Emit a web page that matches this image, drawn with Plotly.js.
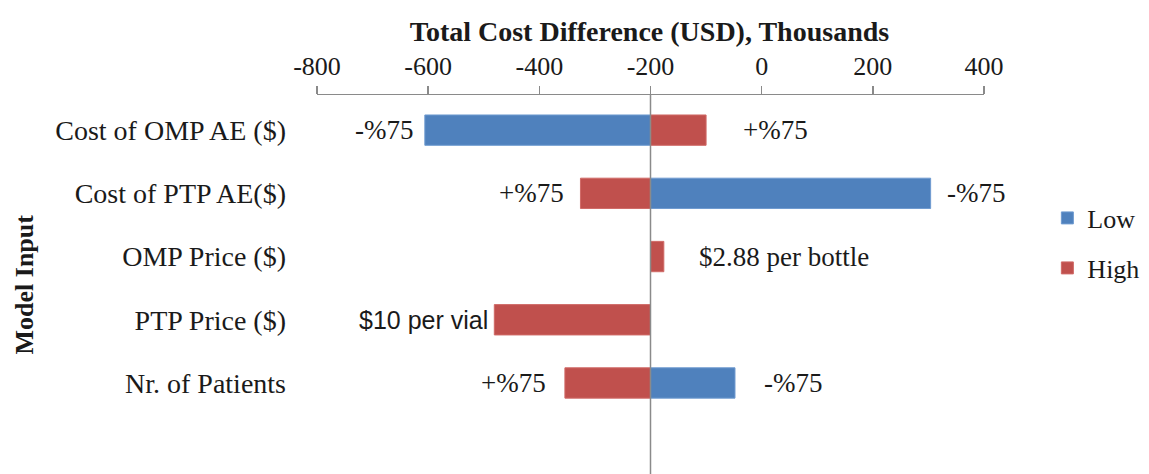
<!DOCTYPE html>
<html>
<head>
<meta charset="utf-8">
<script src="https://cdn.plot.ly/plotly-3.0.1.min.js"></script>
<style>html,body{margin:0;padding:0;background:#fff;}#chart{width:1149px;height:474px;}</style>
</head>
<body>
<div id="chart"></div>
<script>
const categories = ["Cost of OMP AE ($)", "Cost of PTP AE($)", "OMP Price ($)", "PTP Price ($)", "Nr. of Patients"];
const baseValue = -200;
const lowValues = [-606, 304, null, null, -48];
const highValues = [-100, -326, -176, -481, -354];
const lowLabels = ["-%75", "-%75", "", "", "-%75"];
const highLabels = ["+%75", "+%75", "$2.88 per bottle", "$10 per vial", "+%75"];
const tickVals = [-800, -600, -400, -200, 0, 200, 400];

const serif = "Liberation Serif";
const sans = "Liberation Sans";
const blue = "#4F81BD", red = "#C0504D";
const txt = "#1a1a1a";

function diffs(arr){ return arr.map(v => v === null ? null : v - baseValue); }

const traces = [
  {type:"bar", orientation:"h", name:"Low", y:categories, x:diffs(lowValues), base:baseValue,
   marker:{color:blue, line:{color:"#6f9bd0", width:1}}, width:0.48, legend:"legend"},
  {type:"bar", orientation:"h", name:"High", y:categories, x:diffs(highValues), base:baseValue,
   marker:{color:red, line:{color:"#d06a67", width:1}}, width:0.48, legend:"legend2"}
];

// label gaps (px) from bar end, per row: [low, high]
const labelGaps = [[10, 35], [14, 14], [0, 33], [0, 4], [27, 17]];

const annotations = [];
categories.forEach((c, i) => {
  [[lowValues[i], lowLabels[i], labelGaps[i][0]], [highValues[i], highLabels[i], labelGaps[i][1]]].forEach(([v, t, g]) => {
    if (v === null || !t) return;
    const left = v < baseValue;
    const isSans = t.indexOf("vial") >= 0;
    annotations.push({
      x: v, y: c, xref:"x", yref:"y", text: t, showarrow:false,
      xanchor: left ? "right" : "left", yanchor:"middle",
      xshift: left ? -g : g,
      font:{family: isSans ? sans : serif, size: isSans ? 25 : 27, color:txt}
    });
  });
});
annotations.push({
  xref:"paper", yref:"paper", x:-0.4378, y:0.5, xanchor:"center", yanchor:"middle",
  text:"<b>Model Input</b>", textangle:-90,
  showarrow:false, font:{family:serif, size:26, color:txt}
});

const legendCommon = {xanchor:"left", yanchor:"middle", font:{family:serif, size:26, color:txt},
  itemwidth:30, bgcolor:"rgba(0,0,0,0)", borderwidth:0};

const layout = {
  width:1149, height:474,
  margin:{l:317, r:165, t:95, b:0},
  paper_bgcolor:"#fff", plot_bgcolor:"#fff",
  font:{family:serif, color:txt},
  barmode:"overlay",
  showlegend:true,
  legend:Object.assign({x:1.095}, legendCommon, {y:(474-218)/379}),
  legend2:Object.assign({x:1.095}, legendCommon, {y:(474-268)/379}),
  title:{text:"<b>Total Cost Difference (USD), Thousands</b>", font:{family:serif, size:28, color:txt},
         xref:"paper", x:0.4985, xanchor:"center", y:0.955, yanchor:"top"},
  xaxis:{side:"top", range:[-800, 400], tickvals:tickVals, ticktext:tickVals.map(String),
         showgrid:false, zeroline:false, showline:true, linecolor:"#8a8a8a", linewidth:1.5,
         ticks:"outside", ticklen:8, tickcolor:"#8a8a8a", tickwidth:1.5,
         tickfont:{family:serif, size:26, color:txt}, fixedrange:true},
  yaxis:{type:"category", range:[5.44, -0.556], showgrid:false, zeroline:false, showline:false,
         ticks:"", ticklabelstandoff:30, tickfont:{family:serif, size:28, color:txt}, fixedrange:true},
  shapes:[{type:"line", xref:"x", yref:"paper", x0:baseValue, x1:baseValue, y0:0, y1:1,
           line:{color:"#8a8a8a", width:1.5}}],
  annotations:annotations
};

Plotly.newPlot("chart", traces, layout, {displayModeBar:false, staticPlot:true});
</script>
</body>
</html>
